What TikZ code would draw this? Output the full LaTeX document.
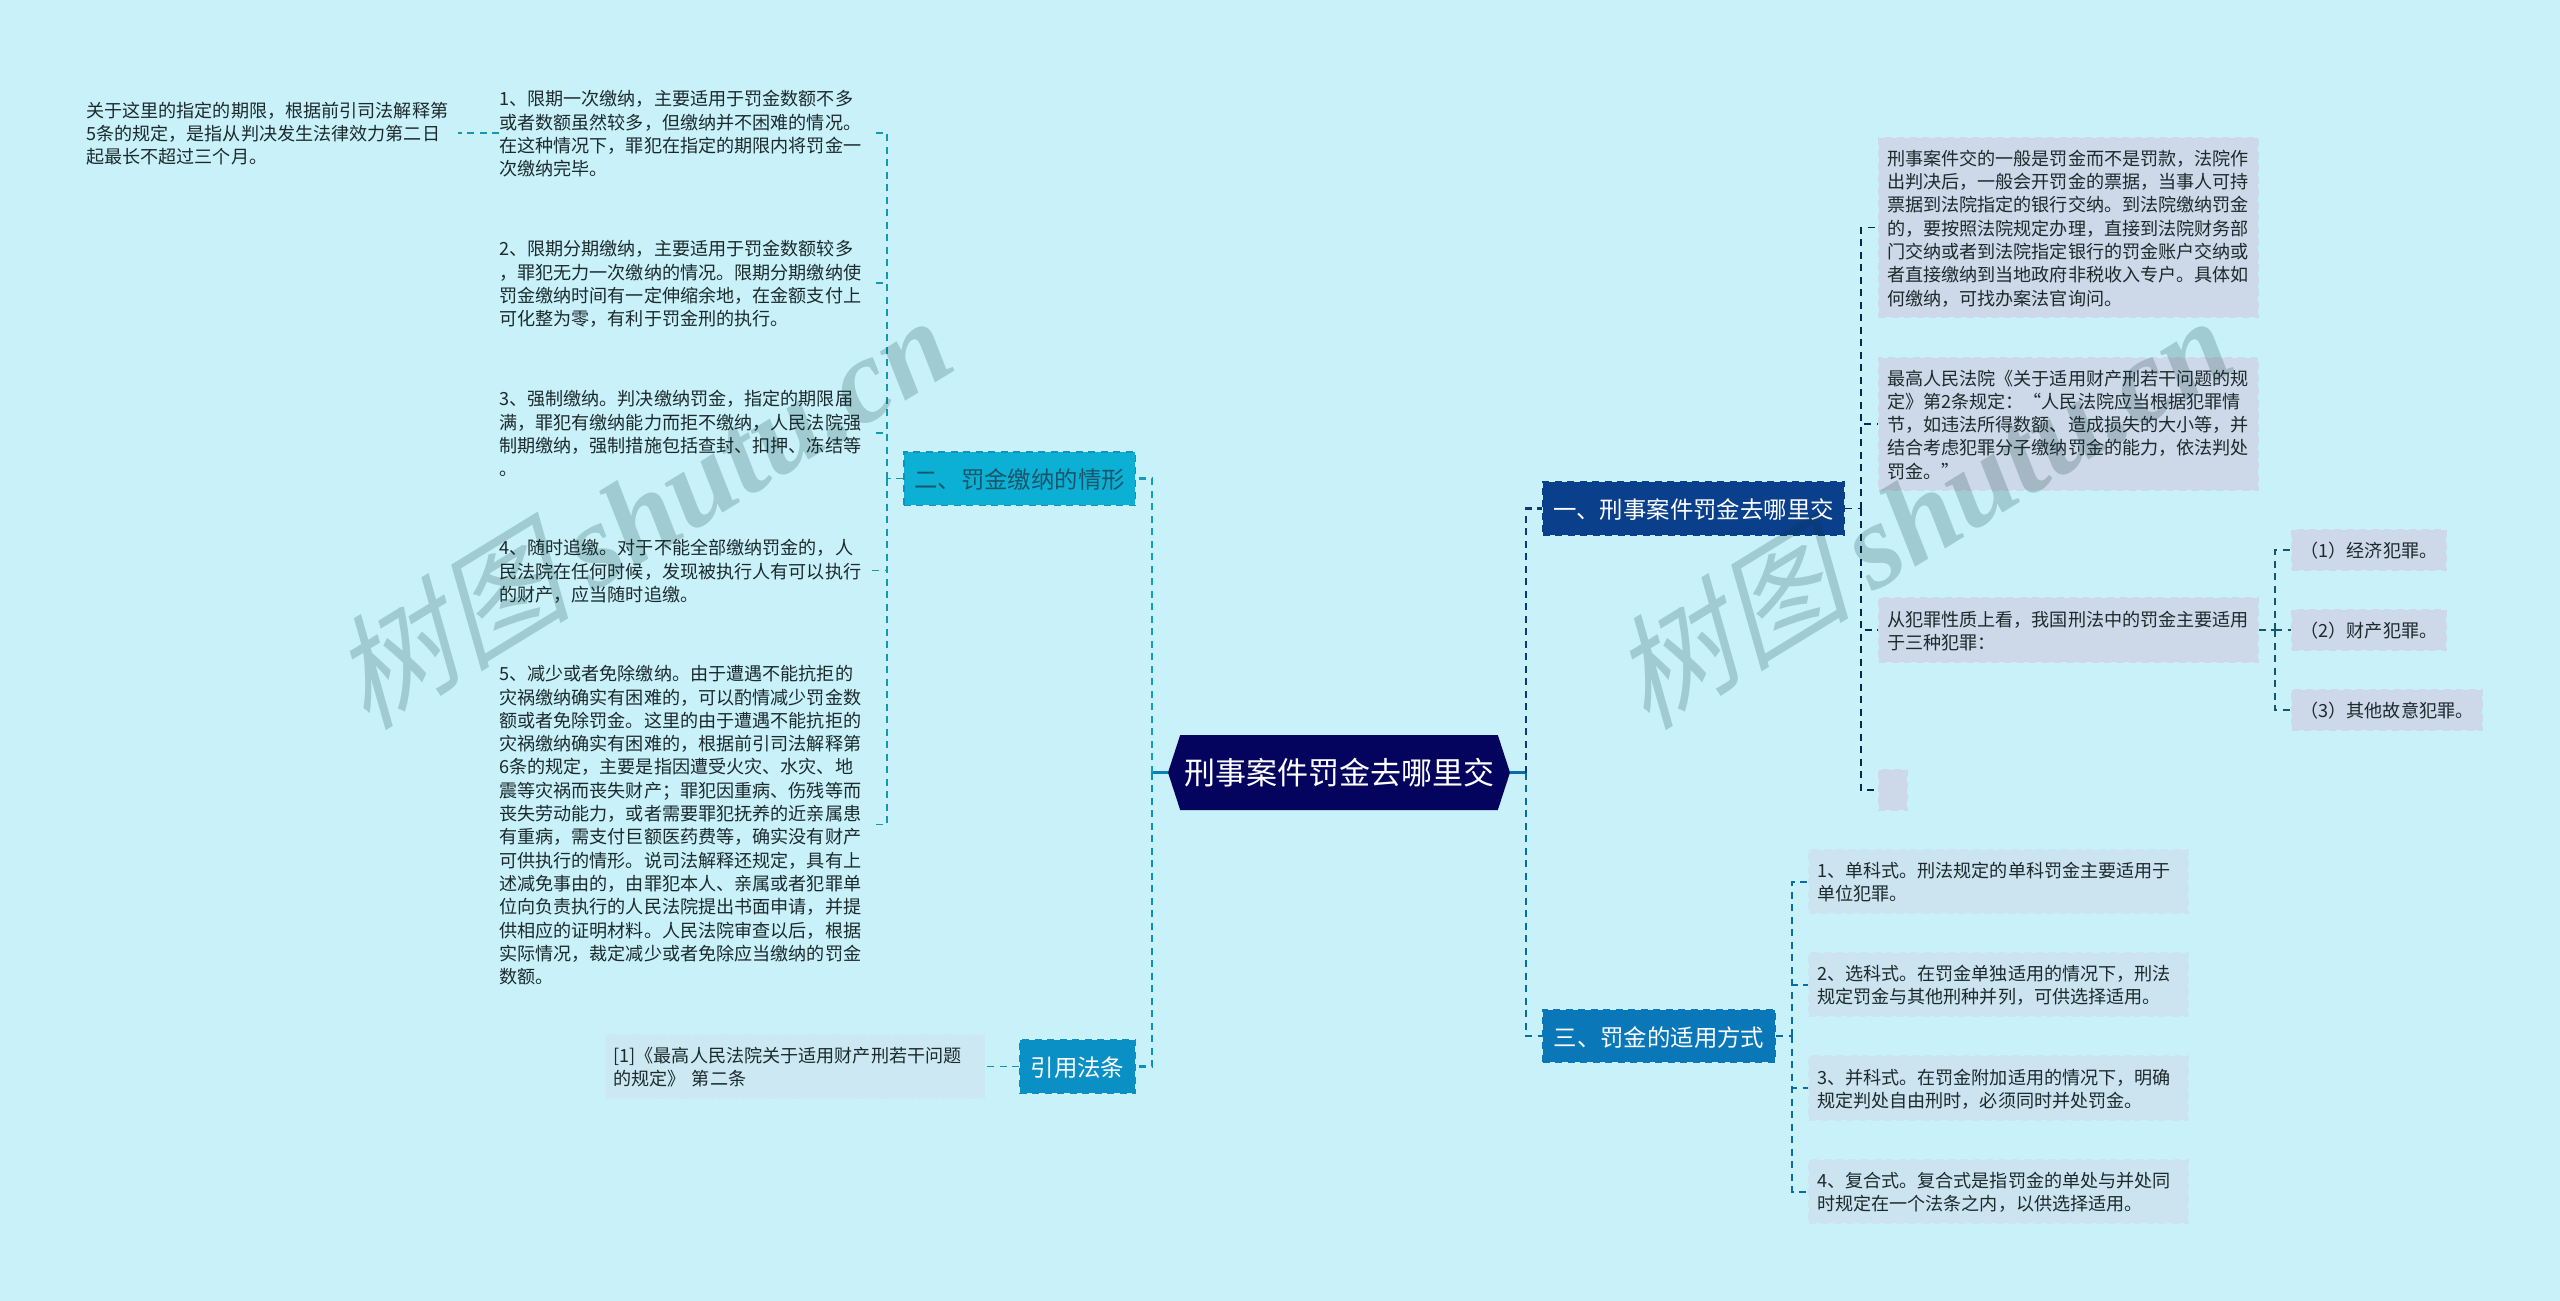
\documentclass[tikz,border=0pt]{standalone}
\usepackage{fontspec}
\setmainfont{Noto Sans CJK SC}
\newfontfamily\wmcjk[FakeSlant=0.28]{Noto Sans CJK SC}
\newfontfamily\wmlat{Liberation Serif}
\usetikzlibrary{shapes.symbols}
\definecolor{bgc}{HTML}{C8F1F9}
\definecolor{ink}{HTML}{1C2A2C}
\definecolor{rootc}{HTML}{04045E}
\definecolor{onec}{HTML}{0A3F8C}
\definecolor{twoc}{HTML}{0CB0D4}
\definecolor{twob}{HTML}{1592B8}
\definecolor{twot}{HTML}{17566A}
\definecolor{twol}{HTML}{1597AE}
\definecolor{threec}{HTML}{0A78B8}
\definecolor{citec}{HTML}{0A90C4}
\definecolor{leafa}{HTML}{CDD8E8}
\definecolor{leafb}{HTML}{CCE3F0}
\definecolor{leafc}{HTML}{CCE9F3}
\tikzset{
  x=1pt,y=-1pt,
  dashc/.style={dash pattern=on 7pt off 5.5pt},
  txt/.style={font=\fontsize{18.1}{23.3}\selectfont,text=ink,align=left,inner sep=0pt,
    execute at begin node={\rule{0pt}{22.3pt}},execute at end node={\strut}},
  plain/.style={txt,anchor=west,text width=372pt},
  wide/.style={txt,fill=#1,draw=#1,dashc,line width=1.5pt,text width=363pt,inner xsep=8pt,inner ysep=0pt},
  small/.style={txt,fill=leafa,draw=leafa,dashc,line width=1.5pt,minimum height=40.5pt},
  topic/.style={font=\fontsize{23.4}{28}\selectfont,text=white,inner sep=0pt,dashc,line width=1.5pt,minimum height=53.5pt,
    execute at begin node={\rule{0pt}{22pt}}},
  mainl/.style={line width=2.5pt,dashc},
  thin/.style={line width=1.7pt,dashc},
  stub/.style={line width=3pt},
  wm/.style={rotate=31.5,text=black!60!teal,text opacity=0.2,inner sep=0pt}
}
\begin{document}
\begin{tikzpicture}
\useasboundingbox (0,0) rectangle (2560,1301);
\fill[bgc] (0,0) rectangle (2560,1301);

% coordinates of the connector bars
\coordinate (barL) at (1152,772.5);
\coordinate (barR) at (1526,772.5);
\coordinate (barTwo) at (887,478.5);
\coordinate (barOne) at (1861,508.5);
\coordinate (barThree) at (1792,1036);
\coordinate (barCrime) at (2275,630);

% nodes
\node[signal,signal to=west and east,signal pointer angle=144,fill=rootc,text=white,
  font=\fontsize{31}{36}\selectfont,inner sep=0pt,minimum width=342pt,minimum height=75pt] (root) at (1339,772.5) {刑事案件罚金去哪里交};

\node[topic,fill=onec,draw=onec,minimum width=301.5pt] (one) at (1693.5,508.5) {一、刑事案件罚金去哪里交};
\node[topic,fill=threec,draw=threec,minimum width=232.5pt,minimum height=52.5pt] (three) at (1659,1036) {三、罚金的适用方式};
\node[topic,fill=twoc,draw=twob,text=twot,minimum width=231.5pt] (two) at (1019.5,478.5) {二、罚金缴纳的情形};
\node[topic,fill=citec,draw=citec,minimum width=115.5pt] (law) at (1077.5,1066.5) {引用法条};

\node[plain] (l0) at (86,133) {关于这里的指定的期限，根据前引司法解释第\\5条的规定，是指从判决发生法律效力第二日\\起最长不超过三个月。};
\node[plain] (t1) at (499,133) {1、限期一次缴纳，主要适用于罚金数额不多\\或者数额虽然较多，但缴纳并不困难的情况。\\在这种情况下，罪犯在指定的期限内将罚金一\\次缴纳完毕。};
\node[plain] (t2) at (499,283) {2、限期分期缴纳，主要适用于罚金数额较多\\，罪犯无力一次缴纳的情况。限期分期缴纳使\\罚金缴纳时间有一定伸缩余地，在金额支付上\\可化整为零，有利于罚金刑的执行。};
\node[plain] (t3) at (499,433) {3、强制缴纳。判决缴纳罚金，指定的期限届\\满，罪犯有缴纳能力而拒不缴纳，人民法院强\\制期缴纳，强制措施包括查封、扣押、冻结等\\。};
\node[plain] (t4) at (499,570.5) {4、随时追缴。对于不能全部缴纳罚金的，人\\民法院在任何时候，发现被执行人有可以执行\\的财产，应当随时追缴。};
\node[plain] (t5) at (499,824.5) {5、减少或者免除缴纳。由于遭遇不能抗拒的\\灾祸缴纳确实有困难的，可以酌情减少罚金数\\额或者免除罚金。这里的由于遭遇不能抗拒的\\灾祸缴纳确实有困难的，根据前引司法解释第\\6条的规定，主要是指因遭受火灾、水灾、地\\震等灾祸而丧失财产；罪犯因重病、伤残等而\\丧失劳动能力，或者需要罪犯抚养的近亲属患\\有重病，需支付巨额医药费等，确实没有财产\\可供执行的情形。说司法解释还规定，具有上\\述减免事由的，由罪犯本人、亲属或者犯罪单\\位向负责执行的人民法院提出书面申请，并提\\供相应的证明材料。人民法院审查以后，根据\\实际情况，裁定减少或者免除应当缴纳的罚金\\数额。};

\node[wide=leafc,minimum height=63.5pt] (cite) at (795,1066.5) {[1]《最高人民法院关于适用财产刑若干问题\\的规定》 第二条};

\node[wide=leafa,minimum height=179.5pt] (a) at (2068.5,227.5) {刑事案件交的一般是罚金而不是罚款，法院作\\出判决后，一般会开罚金的票据，当事人可持\\票据到法院指定的银行交纳。到法院缴纳罚金\\的，要按照法院规定办理，直接到法院财务部\\门交纳或者到法院指定银行的罚金账户交纳或\\者直接缴纳到当地政府非税收入专户。具体如\\何缴纳，可找办案法官询问。};
\node[wide=leafa,minimum height=132.5pt] (b) at (2068.5,424) {最高人民法院《关于适用财产刑若干问题的规\\定》第2条规定：“人民法院应当根据犯罪情\\节，如违法所得数额、造成损失的大小等，并\\结合考虑犯罪分子缴纳罚金的能力，依法判处\\罚金。”};
\node[wide=leafa,minimum height=64.5pt] (c) at (2068.5,630) {从犯罪性质上看，我国刑法中的罚金主要适用\\于三种犯罪：};
\node[small,minimum width=28.5pt] (d) at (1893,790) {};

\node[small,minimum width=154.5pt] (e) at (2369,550) {（1）经济犯罪。};
\node[small,minimum width=154.5pt] (f) at (2369,630) {（2）财产犯罪。};
\node[small,minimum width=190.5pt] (g) at (2387,710) {（3）其他故意犯罪。};

\node[wide=leafb,minimum height=63.5pt] (s1) at (1998.5,881.5) {1、单科式。刑法规定的单科罚金主要适用于\\单位犯罪。};
\node[wide=leafb,minimum height=63.5pt] (s2) at (1998.5,984.5) {2、选科式。在罚金单独适用的情况下，刑法\\规定罚金与其他刑种并列，可供选择适用。};
\node[wide=leafb,minimum height=64.5pt] (s3) at (1998.5,1088) {3、并科式。在罚金附加适用的情况下，明确\\规定判处自由刑时，必须同时并处罚金。};
\node[wide=leafb,minimum height=63.5pt] (s4) at (1998.5,1191.5) {4、复合式。复合式是指罚金的单处与并处同\\时规定在一个法条之内，以供选择适用。};

% connectors
\draw[stub,color=citec!90!black] (root.west) -- (barL);
\draw[stub,color=threec!90!black] (root.east) -- (barR);
\draw[mainl,color=twol!70!twoc] (barL) |- (two.east);
\draw[mainl,color=citec] (barL) |- (law.east);
\draw[mainl,color=onec!90!black] (barR) |- (one.west);
\draw[mainl,color=threec!90!black] (barR) |- (three.west);

\draw[thin,color=twol] (two.west) -- (barTwo);
\foreach \n in {t1,t2,t3,t4,t5} \draw[thin,color=twol] (barTwo) |- (\n.east);
\draw[thin,color=twol] (t1.west) -- (l0.east);
\draw[thin,color=citec] (law.west) -- (cite.east);

\draw[thin,color=onec!60!black] (one.east) -- (barOne);
\foreach \n in {a,b,c,d} \draw[thin,color=onec!60!black] (barOne) |- (\n.west);

\draw[thin,color=twot] (c.east) -- (barCrime);
\foreach \n in {e,f,g} \draw[thin,color=twot] (barCrime) |- (\n.west);

\draw[mainl,line width=2pt,color=threec!90!black] (three.east) -- (barThree);
\foreach \n in {s1,s2,s3,s4} \draw[mainl,line width=2pt,color=threec!90!black] (barThree) |- (\n.west);

% watermarks
\node[wm] (wm1) at (639,510) {\fontsize{122}{124}\selectfont{\wmcjk 树图}\hspace*{22pt}{\wmlat\itshape\bfseries\fontsize{120}{124}\selectfont shutu.cn}};
\node[wm] (wm2) at (1919,510) {\fontsize{122}{124}\selectfont{\wmcjk 树图}\hspace*{22pt}{\wmlat\itshape\bfseries\fontsize{120}{124}\selectfont shutu.cn}};
\end{tikzpicture}
\end{document}
